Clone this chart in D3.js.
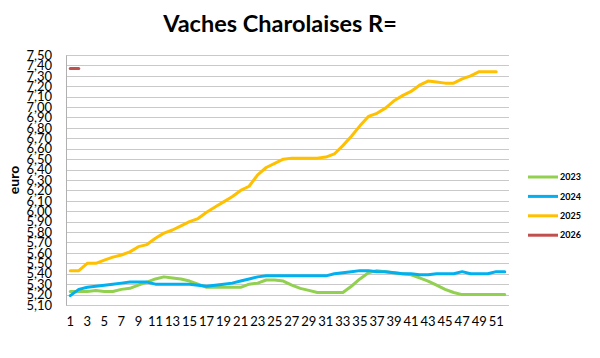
<!DOCTYPE html>
<html><head><meta charset="utf-8">
<script src="https://cdn.jsdelivr.net/npm/d3@7"></script>
<style>body{margin:0;background:#fff}svg{display:block}</style>
</head><body>
<svg id="c" width="600" height="358"></svg>
<script>
const weeks = d3.range(1, 53);
const tickValues = d3.range(0, 25).map(i => +(5.10 + i * 0.10).toFixed(2));
const s2023 = [5.23,5.23,5.23,5.24,5.23,5.23,5.25,5.26,5.29,5.32,5.35,5.37,5.36,5.35,5.33,5.30,5.27,5.27,5.27,5.27,5.27,5.30,5.31,5.34,5.34,5.33,5.29,5.26,5.24,5.22,5.22,5.22,5.22,5.28,5.35,5.41,5.43,5.42,5.41,5.40,5.39,5.36,5.33,5.29,5.25,5.22,5.20,5.20,5.20,5.20,5.20,5.20];
const s2024 = [5.19,5.25,5.27,5.28,5.29,5.30,5.31,5.32,5.32,5.32,5.30,5.30,5.30,5.30,5.30,5.29,5.28,5.29,5.30,5.31,5.33,5.35,5.37,5.38,5.38,5.38,5.38,5.38,5.38,5.38,5.38,5.40,5.41,5.42,5.43,5.43,5.42,5.42,5.41,5.40,5.40,5.39,5.39,5.40,5.40,5.40,5.42,5.40,5.40,5.40,5.42,5.42];
const s2025 = [5.43,5.43,5.50,5.50,5.53,5.56,5.58,5.61,5.66,5.68,5.74,5.79,5.82,5.86,5.90,5.93,5.99,6.04,6.09,6.14,6.20,6.24,6.35,6.42,6.46,6.50,6.51,6.51,6.51,6.51,6.52,6.55,6.63,6.72,6.82,6.91,6.94,6.99,7.06,7.11,7.15,7.21,7.25,7.24,7.23,7.23,7.27,7.30,7.34,7.34,7.34];
const s2026 = [7.37,7.37];
const seriesNames = ["2023","2024","2025","2026"];
const seriesColors = ["#92d050","#00b0f0","#ffc000","#c0504d"];
const seriesData = [s2023, s2024, s2025, s2026];

const svg = d3.select("#c");
const m = {l:66, r:509, t:55, b:305};
const x = d3.scaleBand().domain(weeks).range([m.l, m.r]);
const y = d3.scaleLinear().domain([5.10, 7.50]).range([m.b, m.t]);
const fmt = v => v.toFixed(2).replace(".", ",");
const font = "Lato, 'Open Sans', sans-serif";

// grid
svg.append("g").selectAll("line").data(tickValues).join("line")
  .attr("x1", m.l).attr("x2", m.r)
  .attr("y1", d => Math.round(y(d)) + 0.5).attr("y2", d => Math.round(y(d)) + 0.5)
  .attr("stroke", "#c9c9c9").attr("stroke-width", 1);

// y axis
const ya = svg.append("g").attr("transform", `translate(${m.l},0)`)
  .call(d3.axisLeft(y).tickValues(tickValues).tickFormat(fmt).tickSize(0).tickPadding(14));
ya.select(".domain").attr("stroke", "#b0b0b0");
ya.selectAll("text").attr("font-family", font).attr("font-size", 13).attr("fill", "#000");

// x axis
const xa = svg.append("g").attr("transform", `translate(0,${m.b})`)
  .call(d3.axisBottom(x).tickValues(weeks.filter(w => w % 2 === 1)).tickSize(0).tickPadding(12));
xa.select(".domain").remove();
xa.selectAll("text").attr("font-family", font).attr("font-size", 13).attr("fill", "#000");

// lines
const line = d3.line().x((d, i) => x(weeks[i]) + x.bandwidth() / 2).y(d => y(d));
seriesData.forEach((s, k) => {
  svg.append("path").datum(s).attr("d", line).attr("fill", "none")
    .attr("stroke", seriesColors[k]).attr("stroke-width", 3)
    .attr("stroke-linejoin", "round").attr("stroke-linecap", "round");
});

// title
svg.append("text").attr("x", 280).attr("y", 32).attr("text-anchor", "middle")
  .attr("font-family", font).attr("font-weight", "bold").attr("font-size", 23.5)
  .text("Vaches Charolaises R=");

// y label
svg.append("text").attr("transform", "translate(19,180) rotate(-90)").attr("text-anchor", "middle")
  .attr("font-family", font).attr("font-weight", "bold").attr("font-size", 14).text("euro");

// legend
const lg = svg.append("g").selectAll("g").data(seriesNames).join("g")
  .attr("transform", (d, i) => `translate(528,${177 + i * 19.4})`);
lg.append("line").attr("x1", 0).attr("x2", 30).attr("stroke", (d, i) => seriesColors[i]).attr("stroke-width", 3);
lg.append("text").attr("x", 32).attr("dy", "0.35em").attr("font-family", font).attr("font-size", 9)
  .attr("font-weight", "bold").text(d => d);
</script>
</body></html>
